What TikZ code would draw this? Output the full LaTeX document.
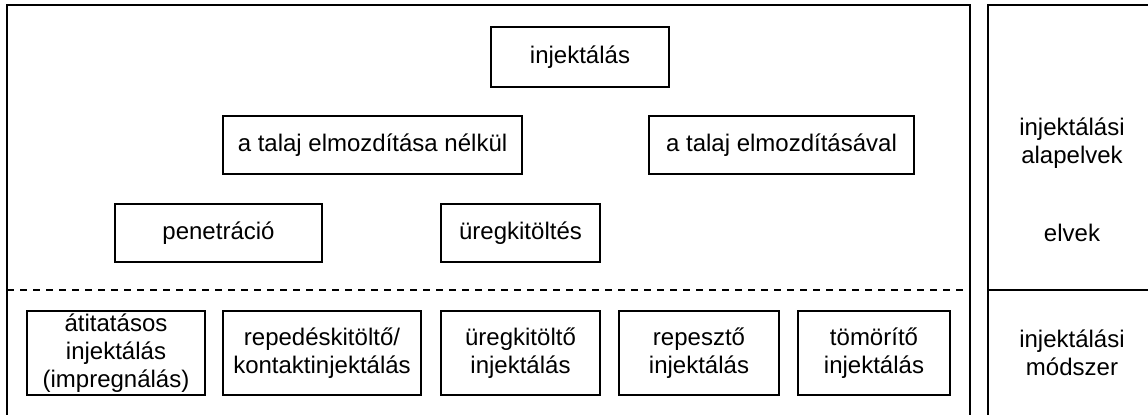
\documentclass[tikz,border=0pt]{standalone}
\usepackage{fontspec}
\setmainfont{Liberation Sans}
\begin{document}
\begin{tikzpicture}[x=0.5pt,y=-0.5pt,
  txt/.style={inner sep=0pt, align=center, font=\fontsize{12}{14}\selectfont, text=black},
  box/.style={txt, draw=black, line width=1pt},
  frame/.style={draw=black, line width=1pt}]
\useasboundingbox (0,0) rectangle (1148,414);
\clip (0,0) rectangle (1148,414);
% frames
\draw[frame] (7,430) -- (7,5) -- (970,5) -- (970,430);
\draw[frame] (1160,5) -- (988,5) -- (988,430);
\draw[frame] (988,290) -- (1160,290);
\draw[frame, dash pattern=on 3.5pt off 3pt] (7,290) -- (970,290);
% upper boxes
\node[box, minimum width=89pt, minimum height=30pt] (inj) at (580,57) {injektálás};
\node[box, minimum width=149.5pt, minimum height=29pt] (nelkul) at (372.5,145) {a talaj elmozdítása nélkül};
\node[box, minimum width=132.5pt, minimum height=29pt] (val) at (781.5,145) {a talaj elmozdításával};
\node[box, minimum width=103.5pt, minimum height=29pt] (pen) at (218.5,233) {penetráció};
\node[box, minimum width=79.5pt, minimum height=29pt] (ureg) at (520.5,233) {üregkitöltés};
% lower boxes
\node[box, minimum width=89pt, minimum height=42pt] (b1) at (116,353) {átitatásos\\injektálás\\(impregnálás)};
\node[box, minimum width=99pt, minimum height=42pt] (b2) at (322,353) {repedéskitöltő/\\kontaktinjektálás};
\node[box, minimum width=79.5pt, minimum height=42pt] (b3) at (520.5,353) {üregkitöltő\\injektálás};
\node[box, minimum width=80pt, minimum height=42pt] (b4) at (699,353) {repesztő\\injektálás};
\node[box, minimum width=76pt, minimum height=42pt] (b5) at (874,353) {tömörítő\\injektálás};
% right column labels
\node[txt] (alap) at (1072,143.5) {injektálási\\alapelvek};
\node[txt] (elvek) at (1072,233) {elvek};
\node[txt] (modszer) at (1072,353) {injektálási\\módszer};
\end{tikzpicture}
\end{document}
